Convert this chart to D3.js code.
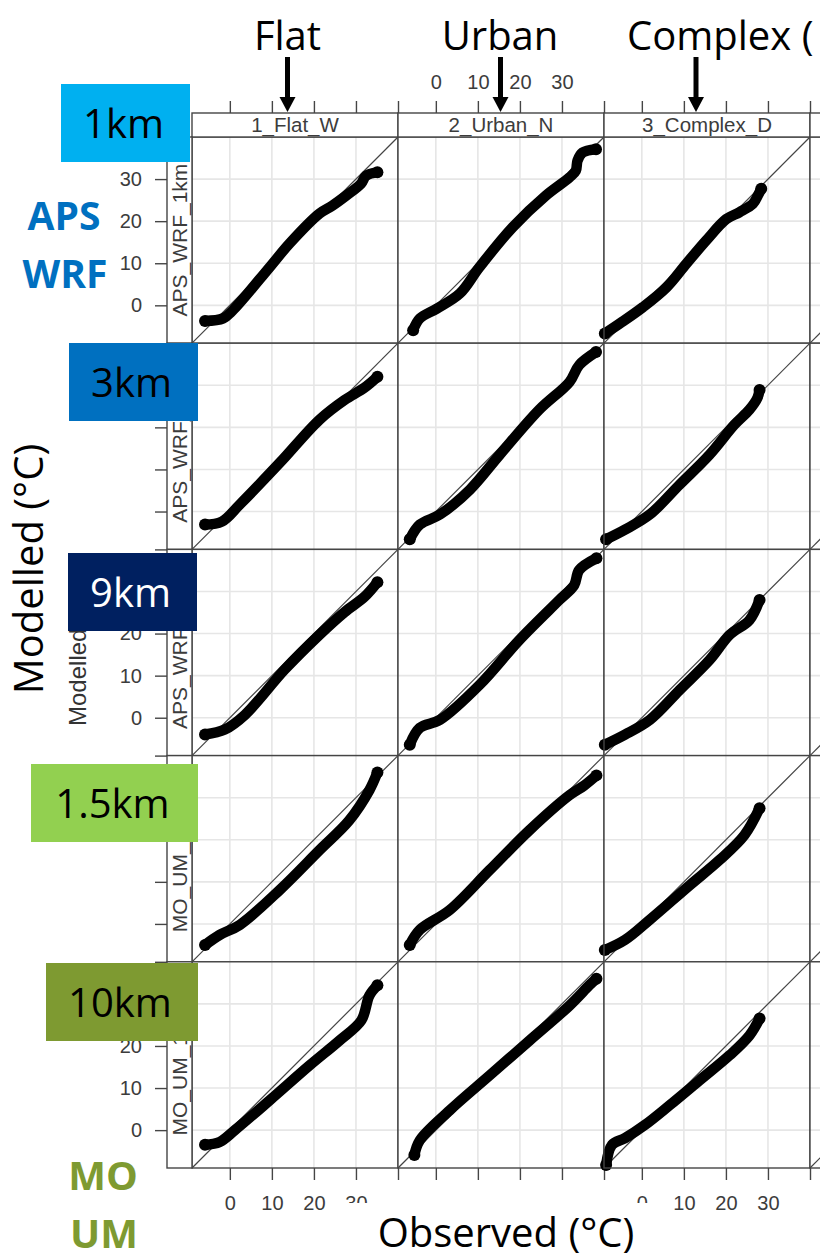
<!DOCTYPE html>
<html>
<head>
<meta charset="utf-8">
<script src="https://cdnjs.cloudflare.com/ajax/libs/d3/7.8.5/d3.min.js"></script>
<style>
  body { margin: 0; background: #fff; }
  .lat { font-family: "Liberation Sans", Arial, sans-serif; }
  .ovl { font-family: "Open Sans", sans-serif; }
</style>
</head>
<body>
<div id="chart"></div>
<script>
// strip names (4th column is cut off by the crop)
var sites = ["1_Flat_W", "2_Urban_N", "3_Complex_D", ""];
var models = ["APS_WRF_1km", "APS_WRF_3km", "APS_WRF_9km", "MO_UM_1.5km", "MO_UM_10km"];
var tickValues = [0, 10, 20, 30, 40];
var gridValues = [0, 10, 20, 30];

// quantile pairs [observed, modelled]
var qqFlat1km = [[-5.9,-3.7],[-1.6,-3.1],[0.7,-1.2],[9.5,9.1],[14.2,14.7],[21.3,21.8],[24.4,23.7],[27.7,26.1],[31.2,28.9],[32.4,30.8],[35.1,31.6]];
var qqUrban1km = [[-5.4,-5.9],[-3.8,-3.1],[0.2,-0.8],[5.7,2.8],[10.4,9.1],[18.3,18.6],[26.2,26.1],[31.8,30.4],[33.3,32.0],[33.7,34.4],[34.9,36.3],[38.1,37.1]];
var qqComplex1km = [[-8.8,-6.7],[-5.2,-4.3],[0.3,-0.4],[5.9,4.3],[10.6,9.9],[15.3,15.4],[20.1,20.5],[23.2,22.1],[26.4,24.1],[27.6,26.1],[28.4,27.7]];

var qqFlat3km = [[-5.9,-3.1],[-1.9,-2.4],[2.4,1.7],[11.9,11.6],[21.3,21.8],[27.3,26.5],[32.0,29.4],[35.1,32.0]];
var qqUrban3km = [[-6.2,-6.6],[-3.8,-3.1],[1.0,-0.7],[8.1,5.2],[15.2,13.5],[24.6,24.2],[31.8,30.8],[34.1,34.8],[38.1,37.9]];
var qqComplex3km = [[-8.5,-6.6],[-4.0,-4.3],[1.9,-0.7],[9.0,6.4],[16.1,13.5],[22.0,20.6],[25.6,24.2],[27.5,27.0],[28.0,28.9]];

var qqFlat9km = [[-5.9,-4.0],[-1.2,-2.8],[3.6,0.7],[13.0,11.4],[21.3,19.7],[27.3,25.1],[32.0,28.7],[35.1,32.2]];
var qqUrban9km = [[-6.2,-6.4],[-3.8,-2.4],[1.0,-0.5],[10.4,7.8],[19.9,18.5],[29.4,28.0],[32.9,31.5],[34.1,35.1],[38.2,37.9]];
var qqComplex9km = [[-8.8,-6.4],[-4.0,-4.0],[1.9,-0.5],[9.0,6.6],[16.1,13.7],[20.9,19.7],[25.6,23.2],[28.0,28.0]];

var qqFlatUm15 = [[-5.9,-5.0],[-2.4,-2.6],[2.4,-0.2],[11.9,8.1],[21.3,17.5],[28.4,24.6],[33.2,31.8],[35.1,36.0]];
var qqUrbanUm15 = [[-6.2,-5.0],[-3.8,-1.4],[3.3,3.3],[12.8,12.8],[22.3,22.3],[31.8,30.6],[35.3,32.9],[38.2,35.3]];
var qqComplexUm15 = [[-8.8,-6.2],[-4.0,-3.8],[1.9,1.0],[11.4,9.2],[18.5,15.2],[24.4,21.1],[28.0,27.5]];

var qqFlatUm10 = [[-5.9,-3.5],[-2.4,-2.8],[1.2,0.0],[9.5,7.1],[19.0,15.4],[26.1,21.3],[31.3,26.1],[33.2,32.0],[35.1,34.4]];
var qqUrbanUm10 = [[-5.1,-5.9],[-3.8,-2.4],[3.3,4.7],[12.8,13.0],[22.3,21.3],[31.8,29.6],[36.5,34.4],[38.2,36.0]];
var qqComplexUm10 = [[-8.5,-8.3],[-7.1,-3.5],[-4.0,-1.9],[0.7,1.2],[6.6,5.9],[13.7,11.8],[20.9,17.8],[25.6,22.5],[28.0,26.5]];

var qq = [
  [qqFlat1km, qqUrban1km, qqComplex1km, []],
  [qqFlat3km, qqUrban3km, qqComplex3km, []],
  [qqFlat9km, qqUrban9km, qqComplex9km, []],
  [qqFlatUm15, qqUrbanUm15, qqComplexUm15, []],
  [qqFlatUm10, qqUrbanUm10, qqComplexUm10, []]
];

// layout
var W = 820, H = 1260;
var left0 = 192, top0 = 137, pw = 206, ph = 206.2;
var stripH = 24, lstripW = 25, tick = 12;
var frame = "#454545", txt = "#3c3c3c";

// slide boxes pasted over the lattice plot
var boxes = [
  { label: "1km",   x: 61, y: 84,  w: 129, h: 78, fill: "#00B0F0", ink: "#000" },
  { label: "3km",   x: 69, y: 343, w: 129, h: 78, fill: "#0070C0", ink: "#000" },
  { label: "9km",   x: 68, y: 553, w: 129, h: 78, fill: "#002060", ink: "#fff" },
  { label: "1.5km", x: 31, y: 764, w: 167, h: 78, fill: "#92D050", ink: "#000" },
  { label: "10km",  x: 46, y: 963, w: 152, h: 78, fill: "#7E9A31", ink: "#000" }
];

var svg = d3.select("#chart").append("svg")
  .attr("width", W).attr("height", H)
  .style("display", "block");

var x = d3.scaleLinear().domain([-9, 40]).range([0, pw]);
var y = d3.scaleLinear().domain([-9, 40]).range([ph, 0]);

var line = d3.line()
  .x(function (d) { return x(d[0]); })
  .y(function (d) { return y(d[1]); })
  .curve(d3.curveCatmullRom.alpha(0.5));

// small lattice y label, partly under the 9km box
svg.append("text")
  .attr("class", "lat")
  .attr("transform", "translate(86," + (top0 + 5 * ph / 2) + ") rotate(-90)")
  .attr("text-anchor", "middle")
  .style("font-size", "24px")
  .style("fill", "#333")
  .text("Modelled (°C)");

models.forEach(function (m, r) {
  sites.forEach(function (s, c) {
    var g = svg.append("g")
      .attr("transform", "translate(" + (left0 + c * pw) + "," + (top0 + r * ph) + ")");

    g.append("rect").attr("width", pw).attr("height", ph).attr("fill", "#fff");

    // grid
    g.selectAll(".gx").data(gridValues).enter().append("line")
      .attr("x1", function (d) { return x(d); }).attr("x2", function (d) { return x(d); })
      .attr("y1", 0).attr("y2", ph)
      .attr("stroke", "#e6e6e6").attr("stroke-width", 1.6);
    g.selectAll(".gy").data(gridValues).enter().append("line")
      .attr("y1", function (d) { return y(d); }).attr("y2", function (d) { return y(d); })
      .attr("x1", 0).attr("x2", pw)
      .attr("stroke", "#e6e6e6").attr("stroke-width", 1.6);

    // 1:1 line
    g.append("line")
      .attr("x1", x(-9)).attr("y1", y(-9))
      .attr("x2", x(40)).attr("y2", y(40))
      .attr("stroke", "#444").attr("stroke-width", 1.2);

    // qq points
    var d = qq[r][c];
    if (d.length) {
      g.append("path")
        .datum(d)
        .attr("d", line)
        .attr("fill", "none")
        .attr("stroke", "#000")
        .attr("stroke-width", 10.5)
        .attr("stroke-linecap", "round")
        .attr("stroke-linejoin", "round");
      // heavier blobs at the tails
      g.selectAll(".end").data([d[0], d[d.length - 1]]).enter().append("circle")
        .attr("cx", function (p) { return x(p[0]); })
        .attr("cy", function (p) { return y(p[1]); })
        .attr("r", 6)
        .attr("fill", "#000");
    }

    g.append("rect").attr("width", pw).attr("height", ph)
      .attr("fill", "none").attr("stroke", frame).attr("stroke-width", 1.4);

    // top strips
    if (r === 0) {
      g.append("rect")
        .attr("y", -stripH).attr("width", pw).attr("height", stripH)
        .attr("fill", "#fff").attr("stroke", frame).attr("stroke-width", 1.4);
      g.append("text")
        .attr("class", "lat")
        .attr("x", pw / 2).attr("y", -stripH / 2)
        .attr("dy", "0.36em")
        .attr("text-anchor", "middle")
        .style("font-size", "20.5px")
        .style("fill", txt)
        .text(s);

      var ax = d3.axisTop(x).tickValues(tickValues).tickSize(tick).tickPadding(12.5)
        .tickFormat(function (v) { return (c === 1 && v < 40) ? v : ""; });
      g.append("g").attr("class", "lat")
        .attr("transform", "translate(0," + (-stripH) + ")")
        .call(ax);
    }

    // bottom axis
    if (r === models.length - 1) {
      var bx = d3.axisBottom(x).tickValues(tickValues).tickSize(tick).tickPadding(16)
        .tickFormat(function (v) { return ((c === 0 || c === 2) && v < 40) ? v : ""; });
      g.append("g").attr("class", "lat")
        .attr("transform", "translate(0," + ph + ")")
        .call(bx);
    }

    // left strips + y axis
    if (c === 0) {
      g.append("rect")
        .attr("x", -lstripW).attr("width", lstripW).attr("height", ph)
        .attr("fill", "#fff").attr("stroke", frame).attr("stroke-width", 1.4);
      g.append("text")
        .attr("class", "lat")
        .attr("transform", "translate(" + (-lstripW / 2) + "," + (ph / 2) + ") rotate(-90)")
        .attr("dy", "0.36em")
        .attr("text-anchor", "middle")
        .style("font-size", "21px")
        .style("fill", txt)
        .text(m);

      // labels that the slide boxes hide are left out
      var rowTop = top0 + r * ph;
      var ay = d3.axisLeft(y).tickValues(tickValues).tickSize(tick).tickPadding(13)
        .tickFormat(function (v) {
          if (r % 2 !== 0 || v >= 40) return "";
          var py = rowTop + y(v);
          var hidden = boxes.some(function (b) { return py > b.y && py < b.y + b.h; });
          return hidden ? "" : v;
        });
      g.append("g").attr("class", "lat")
        .attr("transform", "translate(" + (-lstripW) + ",0)")
        .call(ay);
    }
  });
});

svg.selectAll(".domain").remove();
svg.selectAll(".tick line").attr("stroke", frame).attr("stroke-width", 1.4);
svg.selectAll(".tick text").style("font-size", "20px").style("fill", txt);
svg.selectAll(".tick text").filter(function () { return this.textContent === ""; }).remove();

// ---- slide annotations on top ----
boxes.forEach(function (b) {
  svg.append("rect").attr("x", b.x).attr("y", b.y).attr("width", b.w).attr("height", b.h)
    .attr("fill", b.fill);
  svg.append("text").attr("class", "ovl")
    .attr("x", b.x + b.w / 2 - 2).attr("y", b.y + b.h / 2 + 15)
    .attr("text-anchor", "middle")
    .style("font-size", "40px").style("fill", b.ink)
    .text(b.label);
});

// column headers with arrows
var heads = [
  { label: "Flat", x: 287.5, anchor: "middle", tx: 287.5 },
  { label: "Urban", x: 500.5, anchor: "middle", tx: 500 },
  { label: "Complex (", x: 696, anchor: "start", tx: 627 }
];
heads.forEach(function (h) {
  svg.append("text").attr("class", "ovl")
    .attr("x", h.tx).attr("y", 50)
    .attr("text-anchor", h.anchor)
    .style("font-size", "40px").style("fill", "#000")
    .text(h.label);
  svg.append("line")
    .attr("x1", h.x).attr("x2", h.x).attr("y1", 57).attr("y2", 99)
    .attr("stroke", "#000").attr("stroke-width", 5);
  svg.append("path")
    .attr("d", "M" + (h.x - 8) + ",97 L" + (h.x + 8) + ",97 L" + h.x + ",112 Z")
    .attr("fill", "#000");
});

// model group labels
svg.append("text").attr("class", "ovl")
  .attr("x", 64).attr("y", 230).attr("text-anchor", "middle")
  .style("font-size", "39px").style("font-weight", "bold").style("fill", "#0070C0")
  .text("APS");
svg.append("text").attr("class", "ovl")
  .attr("x", 65).attr("y", 288).attr("text-anchor", "middle")
  .style("font-size", "39px").style("font-weight", "bold").style("fill", "#0070C0")
  .text("WRF");
svg.append("text").attr("class", "ovl")
  .attr("x", 103).attr("y", 1190).attr("text-anchor", "middle")
  .style("font-size", "40px").style("font-weight", "bold").style("fill", "#7E9A31")
  .text("MO");
svg.append("text").attr("class", "ovl")
  .attr("x", 104).attr("y", 1248).attr("text-anchor", "middle")
  .style("font-size", "40px").style("font-weight", "bold").style("fill", "#7E9A31")
  .text("UM");

// big axis titles
svg.append("text").attr("class", "ovl")
  .attr("transform", "translate(43,569) rotate(-90)")
  .attr("text-anchor", "middle")
  .style("font-size", "40px").style("fill", "#000")
  .text("Modelled (°C)");

svg.append("rect").attr("x", 345).attr("y", 1203).attr("width", 307).attr("height", 57)
  .attr("fill", "#fff");
svg.append("text").attr("class", "ovl")
  .attr("x", 506).attr("y", 1247)
  .attr("text-anchor", "middle")
  .style("font-size", "40px").style("fill", "#000")
  .text("Observed (°C)");
</script>
</body>
</html>
